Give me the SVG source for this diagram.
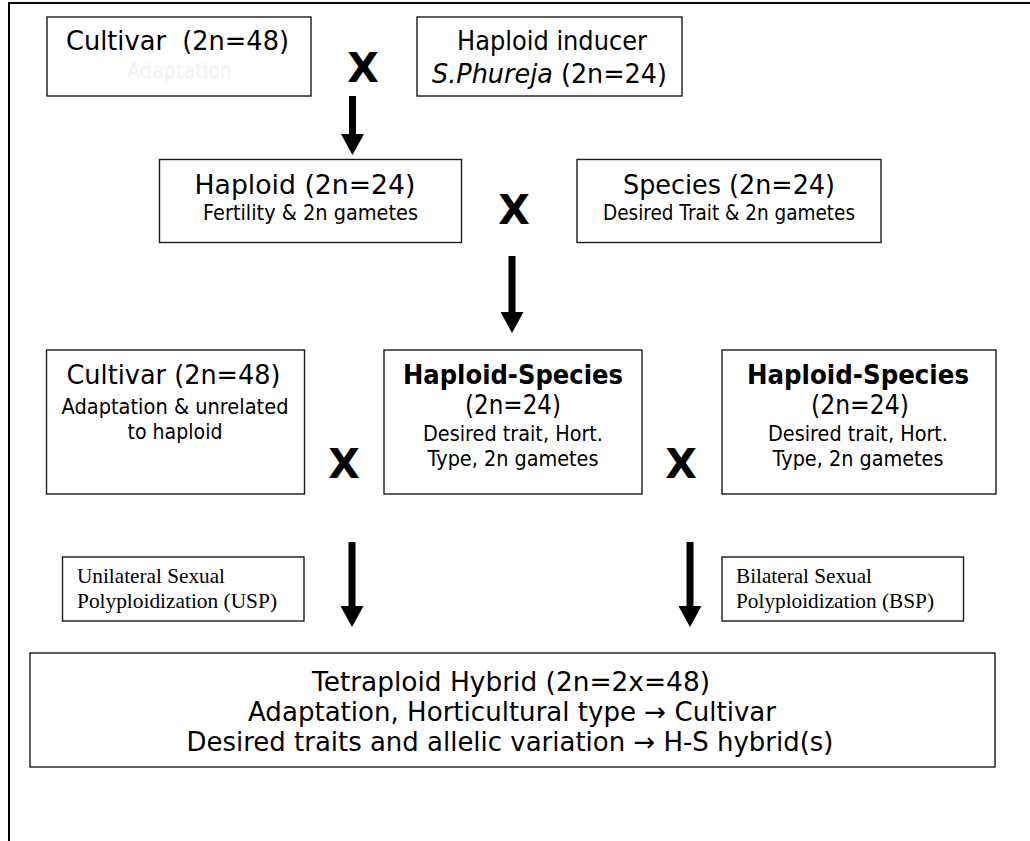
<svg xmlns="http://www.w3.org/2000/svg" width="1030" height="841" viewBox="0 0 1030 841">
<style>
.box{fill:#fff;stroke:#1a1a1a;stroke-width:1.4}
.t{font-family:"DejaVu Sans","Liberation Sans",sans-serif;fill:#000;text-anchor:middle}
.big{font-size:27px}
.mid{font-size:22px}
.bot{font-size:26px}
.b{font-weight:bold}
.x{font-family:"DejaVu Sans","Liberation Sans",sans-serif;font-weight:bold;font-size:41px;text-anchor:middle;fill:#000}
.s{font-family:"Liberation Serif","Times New Roman",serif;font-size:21px;fill:#000}
.arr{stroke:#000;stroke-width:7;fill:none}
</style>
<defs>
<marker id="head" markerUnits="userSpaceOnUse" markerWidth="21" markerHeight="23" viewBox="0 0 21 23" refX="0" refY="11.5" orient="auto">
<path d="M0,0 L21,11.5 L0,23 Z" fill="#000"/>
</marker>
</defs>
<rect width="1030" height="841" fill="#fff"/>
<g id="frame" stroke="#000" stroke-width="2" fill="none">
<path d="M9,841 L9,3 L1030,3"/>
</g>

<g id="cultivar-top">
<rect class="box" x="47" y="17" width="264" height="79"/>
<text class="t big" x="177.5" y="50" textLength="223" lengthAdjust="spacingAndGlyphs" xml:space="preserve">Cultivar  (2n=48)</text>
<text class="t mid" x="179.5" y="78" textLength="105" lengthAdjust="spacingAndGlyphs" style="fill:#f3f3f3">Adaptation</text>
</g>

<g id="inducer">
<rect class="box" x="417" y="17" width="265" height="79"/>
<text class="t big" x="552" y="50" textLength="190" lengthAdjust="spacingAndGlyphs">Haploid inducer</text>
<text class="t big" x="549.5" y="83" textLength="235" lengthAdjust="spacingAndGlyphs"><tspan font-style="italic">S.Phureja</tspan> (2n=24)</text>
</g>

<g id="haploid">
<rect class="box" x="159.5" y="159.5" width="302" height="83"/>
<text class="t big" x="305" y="194" textLength="221" lengthAdjust="spacingAndGlyphs">Haploid (2n=24)</text>
<text class="t mid" x="310.5" y="220" textLength="215" lengthAdjust="spacingAndGlyphs">Fertility &amp; 2n gametes</text>
</g>

<g id="species">
<rect class="box" x="577" y="159.5" width="304" height="83"/>
<text class="t big" x="729" y="194" textLength="212" lengthAdjust="spacingAndGlyphs">Species (2n=24)</text>
<text class="t mid" x="729" y="220" textLength="252" lengthAdjust="spacingAndGlyphs">Desired Trait &amp; 2n gametes</text>
</g>

<g id="cultivar-mid">
<rect class="box" x="46.5" y="350" width="258" height="144"/>
<text class="t big" x="173.5" y="384" textLength="214" lengthAdjust="spacingAndGlyphs">Cultivar (2n=48)</text>
<text class="t mid" x="175" y="414" textLength="227" lengthAdjust="spacingAndGlyphs">Adaptation &amp; unrelated</text>
<text class="t mid" x="175" y="439" textLength="95" lengthAdjust="spacingAndGlyphs">to haploid</text>
</g>

<g id="hs-mid">
<rect class="box" x="384" y="350" width="258" height="144"/>
<text class="t big b" x="513" y="384" textLength="220" lengthAdjust="spacingAndGlyphs">Haploid-Species</text>
<text class="t big" x="513" y="414" textLength="96" lengthAdjust="spacingAndGlyphs">(2n=24)</text>
<text class="t mid" x="513" y="441" textLength="180" lengthAdjust="spacingAndGlyphs">Desired trait, Hort.</text>
<text class="t mid" x="513" y="466" textLength="171" lengthAdjust="spacingAndGlyphs">Type, 2n gametes</text>
</g>

<g id="hs-right">
<rect class="box" x="722" y="350" width="274" height="144"/>
<text class="t big b" x="858" y="384" textLength="222" lengthAdjust="spacingAndGlyphs">Haploid-Species</text>
<text class="t big" x="860" y="414" textLength="98" lengthAdjust="spacingAndGlyphs">(2n=24)</text>
<text class="t mid" x="858" y="441" textLength="180" lengthAdjust="spacingAndGlyphs">Desired trait, Hort.</text>
<text class="t mid" x="858" y="466" textLength="171" lengthAdjust="spacingAndGlyphs">Type, 2n gametes</text>
</g>

<g id="usp">
<rect class="box" x="62.5" y="557" width="241.5" height="64"/>
<text class="s" x="77" y="583" textLength="148" lengthAdjust="spacingAndGlyphs">Unilateral Sexual</text>
<text class="s" x="77" y="608" textLength="200" lengthAdjust="spacingAndGlyphs">Polyploidization (USP)</text>
</g>

<g id="bsp">
<rect class="box" x="722" y="557" width="241.5" height="64"/>
<text class="s" x="736" y="583" textLength="136" lengthAdjust="spacingAndGlyphs">Bilateral Sexual</text>
<text class="s" x="736" y="608" textLength="198" lengthAdjust="spacingAndGlyphs">Polyploidization (BSP)</text>
</g>

<g id="tetraploid">
<rect class="box" x="30" y="653" width="965" height="114"/>
<text class="t bot" x="511" y="691" textLength="398" lengthAdjust="spacingAndGlyphs">Tetraploid Hybrid (2n=2x=48)</text>
<text class="t bot" x="512" y="721" textLength="528" lengthAdjust="spacingAndGlyphs">Adaptation, Horticultural type → Cultivar</text>
<text class="t bot" x="510" y="751" textLength="647" lengthAdjust="spacingAndGlyphs">Desired traits and allelic variation → H-S hybrid(s)</text>
</g>

<g id="crosses">
<text class="x" x="363" y="82">X</text>
<text class="x" x="514" y="224">X</text>
<text class="x" x="344" y="478">X</text>
<text class="x" x="681" y="478">X</text>
</g>

<g id="connectors">
<line class="arr" x1="352.5" y1="96" x2="352.5" y2="134" marker-end="url(#head)"/>
<line class="arr" x1="512" y1="256" x2="512" y2="312" marker-end="url(#head)"/>
<line class="arr" x1="352" y1="542" x2="352" y2="606" marker-end="url(#head)"/>
<line class="arr" x1="690" y1="542" x2="690" y2="606" marker-end="url(#head)"/>
</g>
</svg>
